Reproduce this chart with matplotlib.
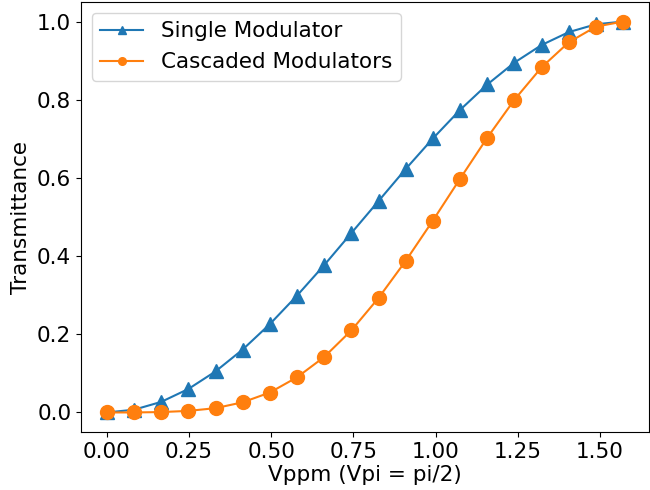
import numpy as np
import matplotlib.pyplot as plt

# drive voltage (Vpi = pi/2), 20 samples
vppm = [0.0, 0.0827, 0.1653, 0.2480, 0.3307, 0.4134, 0.4960, 0.5787, 0.6614, 0.7440,
        0.8267, 0.9094, 0.9920, 1.0747, 1.1574, 1.2400, 1.3227, 1.4054, 1.4880, 1.5708]
single = [0.0, 0.007, 0.027, 0.060, 0.105, 0.161, 0.226, 0.299, 0.377, 0.459,
          0.541, 0.623, 0.701, 0.774, 0.839, 0.895, 0.940, 0.973, 0.993, 1.0]
cascaded = [0.0, 0.0, 0.001, 0.004, 0.011, 0.026, 0.051, 0.090, 0.142, 0.210,
            0.293, 0.388, 0.491, 0.598, 0.703, 0.800, 0.883, 0.947, 0.987, 1.0]
xticks = [0.0, 0.25, 0.5, 0.75, 1.0, 1.25, 1.5]

plt.rcParams['font.size'] = 15.5

fig = plt.figure(figsize=(6.5, 4.9), dpi=100)
ax = fig.add_axes([81 / 650, 58 / 490, 568 / 650, 430 / 490])
ax.plot(vppm, single, marker='^', ms=9.5, label='Single Modulator')
ax.plot(vppm, cascaded, marker='o', ms=10, label='Cascaded Modulators')
ax.set_xticks(xticks)
ax.set_xlabel('Vppm (Vpi = pi/2)', labelpad=2)
ax.set_ylabel('Transmittance')
ax.legend(loc='upper left', markerscale=0.55)

fig.savefig('out.png')
